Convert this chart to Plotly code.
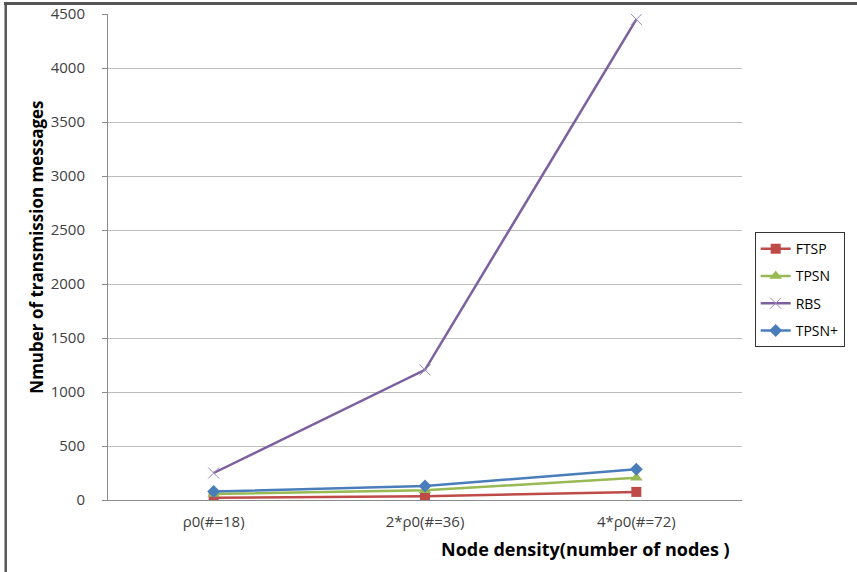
import plotly.graph_objects as go

categories = ["\u03c10(#=18)", "2*\u03c10(#=36)", "4*\u03c10(#=72)"]
ftsp = [20, 35, 75]
tpsn = [55, 90, 205]
rbs = [250, 1205, 4450]
tpsn_plus = [78, 130, 285]
y_ticks = [0, 500, 1000, 1500, 2000, 2500, 3000, 3500, 4000, 4500]

fig = go.Figure()
fig.add_trace(go.Scatter(x=categories, y=ftsp, name="FTSP", mode="lines+markers",
                         legendgroup="a",
                         line=dict(color="#BE4B48", width=2.5),
                         marker=dict(symbol="square", size=10, color="#BE4B48")))
fig.add_trace(go.Scatter(x=categories, y=tpsn, name="TPSN", mode="lines+markers",
                         legendgroup="b",
                         line=dict(color="#98B954", width=2.5),
                         marker=dict(symbol="triangle-up", size=11, color="#98B954")))
fig.add_trace(go.Scatter(x=categories, y=rbs, name="RBS", mode="lines+markers",
                         legendgroup="c",
                         line=dict(color="#7D60A0", width=2.5),
                         marker=dict(symbol="x-thin", size=11,
                                     line=dict(color="#9B8AB8", width=1))))
fig.add_trace(go.Scatter(x=categories, y=tpsn_plus, name="TPSN+", mode="lines+markers",
                         legendgroup="d",
                         line=dict(color="#4A7EBB", width=2.5),
                         marker=dict(symbol="diamond", size=10, color="#4A7EBB")))

fig.update_layout(
    width=857, height=572,
    margin=dict(l=108, r=109, t=14, b=72),
    paper_bgcolor="white", plot_bgcolor="white",
    font=dict(family="Open Sans, Liberation Sans, sans-serif", color="#404040"),
    legend=dict(x=1.02, y=0.551, xanchor="left", yanchor="top",
                bordercolor="#333333", borderwidth=1,
                font=dict(size=14, color="#000000"),
                tracegroupgap=6, itemwidth=30),
    xaxis=dict(type="category", showgrid=False, showline=True,
               linecolor="#8C8C8C", linewidth=1, automargin=False,
               ticks="", tickfont=dict(size=15, color="#404040"),
               ticklabelstandoff=8,
               range=[-0.5, 2.5]),
    yaxis=dict(range=[0, 4500], tickvals=y_ticks, showgrid=True,
               gridcolor="#BDBDBD", gridwidth=1, zeroline=False,
               showline=True, linecolor="#8C8C8C", linewidth=1,
               automargin=False,
               ticks="outside", ticklen=5, tickcolor="#8C8C8C",
               ticklabelstandoff=14,
               tickfont=dict(size=15, color="#404040")),
    showlegend=True,
)

# axis titles as annotations (positioned like the reference)
fig.add_annotation(text="<b>Nmuber of transmission messages</b>", xref="paper", yref="paper",
                   x=(35 - 108) / 640, y=(500 - 247) / 486, textangle=-90,
                   showarrow=False, xanchor="center", yanchor="middle",
                   font=dict(size=17, color="#000000"))
fig.add_annotation(text="<b>Node density(number of nodes )</b>", xref="paper", yref="paper",
                   x=(590 - 108) / 640, y=(500 - 549) / 486,
                   showarrow=False, xanchor="center", yanchor="middle",
                   font=dict(size=18, color="#000000"))

# outer frame: left edge as a shape
fig.add_shape(type="rect", xref="paper", yref="paper",
              x0=-104.5 / 640, x1=-102 / 640, y0=-72 / 486, y1=(500 - 2) / 486,
              fillcolor="#555555", line=dict(width=0), layer="above")

top_border_js = (
    "document.body.style.margin='0';document.body.style.padding='0';"
    "var d=document.createElement('div');"
    "d.style.cssText='position:absolute;left:4px;top:2px;width:853px;height:3px;"
    "background:#555555;z-index:1000;pointer-events:none;';"
    "document.body.appendChild(d);"
)

fig.write_html("out.html", config={"displayModeBar": False}, post_script=top_border_js)
